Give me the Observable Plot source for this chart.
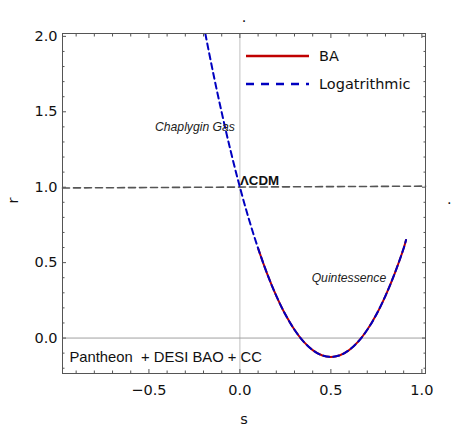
<!DOCTYPE html>
<html><head><meta charset="utf-8">
<script src="https://cdn.jsdelivr.net/npm/d3@7"></script>
<script src="https://cdn.jsdelivr.net/npm/@observablehq/plot@0.6"></script>
<style>
body{margin:0;background:#fff;}
#chart{position:relative;width:459px;height:435px;}
#legend{position:absolute;left:246px;top:42px;font-family:"DejaVu Sans",sans-serif;font-size:14.5px;color:#111;}
#legend .row{display:flex;align-items:center;height:28px;}
#legend svg{margin-right:9px;}
</style></head><body><div id="chart"></div>
<script>
// Logarithmic model (blue dashed)
const logS = [-0.19, -0.15, -0.1, -0.05, 0, 0.05, 0.1, 0.15, 0.2, 0.25, 0.3, 0.35, 0.4, 0.45, 0.5, 0.55, 0.6, 0.65, 0.7, 0.75, 0.8, 0.85, 0.9, 0.913];
const logR = [2.017, 1.776, 1.495, 1.236, 1.0, 0.786, 0.595, 0.426, 0.28, 0.156, 0.055, -0.024, -0.08, -0.114, -0.125, -0.114, -0.08, -0.024, 0.055, 0.156, 0.28, 0.426, 0.595, 0.65];
// BA model (red solid)
const baS = [0.1, 0.15, 0.2, 0.25, 0.3, 0.35, 0.4, 0.45, 0.5, 0.55, 0.6, 0.65, 0.7, 0.75, 0.8, 0.85, 0.9, 0.913];
const baR = [0.595, 0.426, 0.28, 0.156, 0.055, -0.024, -0.08, -0.114, -0.125, -0.114, -0.08, -0.024, 0.055, 0.156, 0.28, 0.426, 0.595, 0.65];
// LCDM reference line
const lcdmS = [-0.975, 1.02];
const lcdmR = [0.995, 1.007];
// ticks
const xMajor = [-0.5, 0, 0.5, 1.0];
const xMinor = [-0.9, -0.8, -0.7, -0.6, -0.4, -0.3, -0.2, -0.1, 0.1, 0.2, 0.3, 0.4, 0.6, 0.7, 0.8, 0.9];
const yMajor = [0, 0.5, 1.0, 1.5, 2.0];
const yMinor = [-0.2, -0.1, 0.1, 0.2, 0.3, 0.4, 0.6, 0.7, 0.8, 0.9, 1.1, 1.2, 1.3, 1.4, 1.6, 1.7, 1.8, 1.9];
// annotations
const italicLabels = [
  {s: -0.247, r: 1.40, text: "Chaplygin Gas"},
  {s: 0.599, r: 0.40, text: "Quintessence"}
];
const boldLabels = [{s: 0.0, r: 1.045, text: "ΛCDM"}];
const datasetLabels = [{s: -0.937, r: -0.124, text: "Pantheon  + DESI BAO + CC"}];
const legendItems = [
  {name: "BA", color: "#c00000", dash: null},
  {name: "Logatrithmic", color: "#0000c0", dash: "6,4"}
];

const logData = logS.map((s, i) => ({s, r: logR[i]}));
const baData = baS.map((s, i) => ({s, r: baR[i]}));
const lcdmData = lcdmS.map((s, i) => ({s, r: lcdmR[i]}));

const tickFont = {fontSize: 14.5, fontFamily: "DejaVu Sans"};
const frameColor = "#555";

const chart = Plot.plot({
  width: 459, height: 435,
  marginLeft: 62, marginRight: 34, marginTop: 33, marginBottom: 62,
  x: {domain: [-0.975, 1.02], label: null},
  y: {domain: [-0.235, 2.019], label: null},
  style: {background: "#fff", color: "#111"},
  marks: [
    Plot.ruleX([0], {stroke: "#c0c0c0", strokeWidth: 1}),
    Plot.ruleY([0], {stroke: "#a0a0a0", strokeWidth: 1}),
    Plot.line(lcdmData, {x: "s", y: "r", stroke: "#555", strokeWidth: 1.6, strokeDasharray: "7,4"}),
    Plot.line(baData, {x: "s", y: "r", stroke: "#c00000", strokeWidth: 2, curve: "catmull-rom"}),
    Plot.line(logData, {x: "s", y: "r", stroke: "#0000c0", strokeWidth: 2, strokeDasharray: "6,4", curve: "catmull-rom", clip: true}),
    Plot.text(italicLabels, {x: "s", y: "r", text: "text", fontStyle: "italic", fontFamily: "Liberation Sans", fontSize: 12.2, fill: "#222"}),
    Plot.text(boldLabels, {x: "s", y: "r", text: "text", fontWeight: "bold", fontFamily: "Liberation Sans", fontSize: 13.3, textAnchor: "start", fill: "#111"}),
    Plot.text(datasetLabels, {x: "s", y: "r", text: "text", fontFamily: "Liberation Sans", fontSize: 14.8, textAnchor: "start", fill: "#111"}),
    Plot.frame({stroke: frameColor, strokeWidth: 1}),
    // inward ticks on all four sides
    Plot.axisX({ticks: xMajor, anchor: "bottom", tickSize: -4, fill: "none", stroke: frameColor, label: null}),
    Plot.axisX({ticks: xMinor, anchor: "bottom", tickSize: -2.5, fill: "none", stroke: frameColor, label: null}),
    Plot.axisX({ticks: xMajor, anchor: "top", tickSize: -4, fill: "none", stroke: frameColor, label: null}),
    Plot.axisX({ticks: xMinor, anchor: "top", tickSize: -2.5, fill: "none", stroke: frameColor, label: null}),
    Plot.axisY({ticks: yMajor, anchor: "left", tickSize: -4, fill: "none", stroke: frameColor, label: null}),
    Plot.axisY({ticks: yMinor, anchor: "left", tickSize: -2.5, fill: "none", stroke: frameColor, label: null}),
    Plot.axisY({ticks: yMajor, anchor: "right", tickSize: -4, fill: "none", stroke: frameColor, label: null}),
    Plot.axisY({ticks: yMinor, anchor: "right", tickSize: -2.5, fill: "none", stroke: frameColor, label: null}),
    // tick labels
    Plot.axisX({ticks: xMajor, anchor: "bottom", tickSize: 0, tickPadding: 11, tickFormat: d3.format(".1f"), stroke: "none", label: null, ...tickFont}),
    Plot.axisY({ticks: yMajor, anchor: "left", tickSize: 0, tickPadding: 5, tickFormat: d3.format(".1f"), stroke: "none", label: null, ...tickFont}),
    // axis titles
    Plot.text(["s"], {frameAnchor: "bottom", dy: 50, fontSize: 14.5, fontFamily: "DejaVu Sans"}),
    Plot.text(["r"], {frameAnchor: "left", dx: -49, rotate: -90, fontSize: 14.5, fontFamily: "DejaVu Sans"}),
    Plot.text(["."], {frameAnchor: "top", dy: -22, fontSize: 14.5, fontFamily: "DejaVu Sans"}),
    Plot.text(["."], {frameAnchor: "right", dx: 26, dy: -4, fontSize: 14.5, fontFamily: "DejaVu Sans"})
  ]
});
const root = document.getElementById("chart");
root.appendChild(chart);

// legend (inside the frame, top right)
const legend = document.createElement("div");
legend.id = "legend";
legendItems.forEach(item => {
  const row = document.createElement("div");
  row.className = "row";
  const svg = d3.create("svg").attr("width", 64).attr("height", 10);
  svg.append("line").attr("x1", 0).attr("x2", 63).attr("y1", 5).attr("y2", 5)
    .attr("stroke", item.color).attr("stroke-width", 2.5)
    .attr("stroke-dasharray", item.dash ? "8,7" : null);
  row.appendChild(svg.node());
  const span = document.createElement("span");
  span.textContent = item.name;
  row.appendChild(span);
  legend.appendChild(row);
});
root.appendChild(legend);
</script>
</body></html>
